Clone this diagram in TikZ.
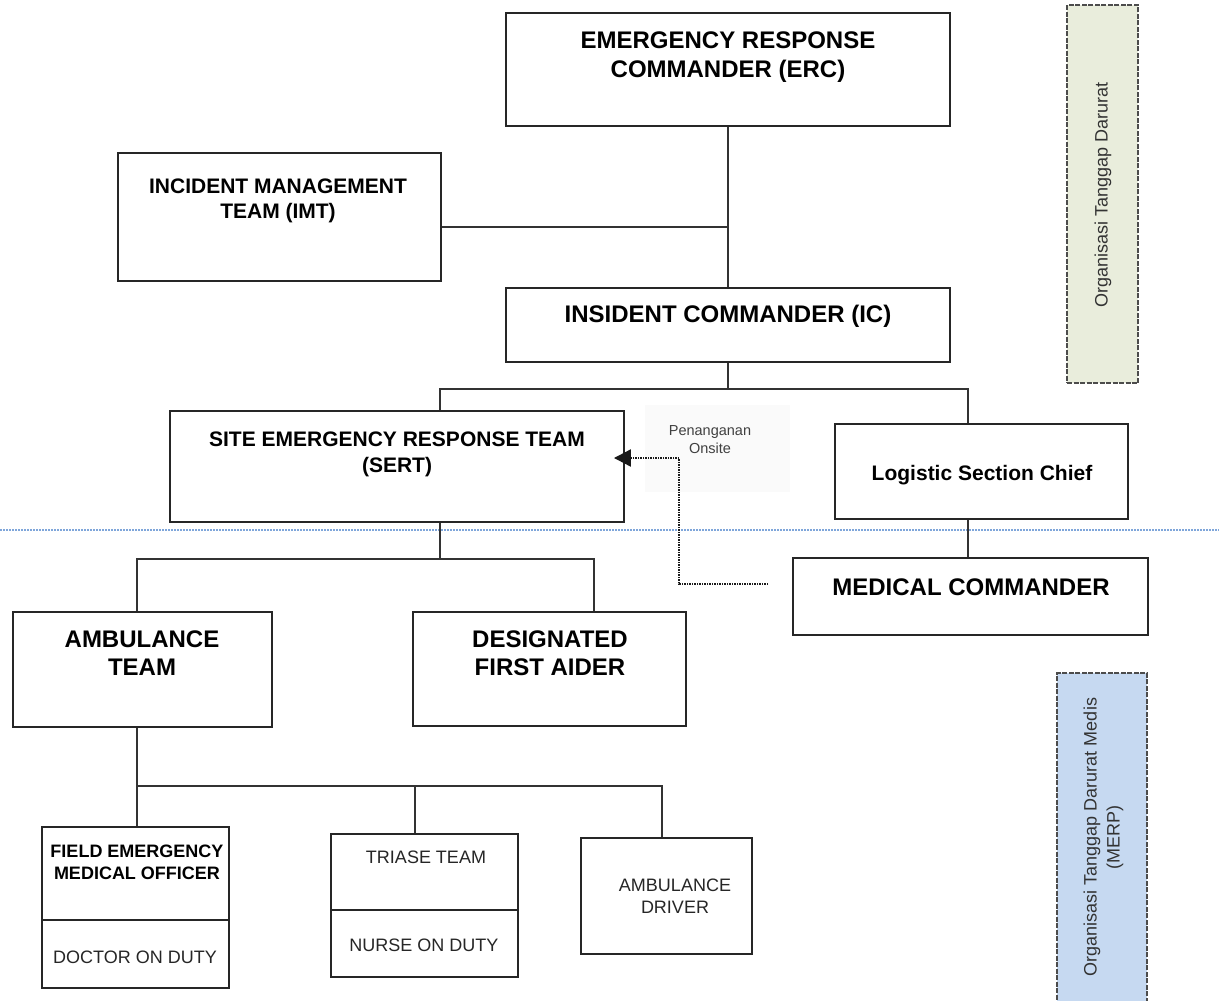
\documentclass[tikz,border=0pt]{standalone}
\usepackage{fontspec}
\setmainfont{Liberation Sans}
\usetikzlibrary{arrows.meta,calc}
\definecolor{gfill}{HTML}{E9EDDC}
\definecolor{bfill}{HTML}{C6D9F1}
\definecolor{bline}{HTML}{7FA6DA}
\begin{document}
\begin{tikzpicture}[x=1pt,y=-1pt,
  box/.style={draw=black!85, line width=1.9pt, fill=white, inner sep=0pt},
  legend/.style={draw=black!70, line width=1.8pt, dash pattern=on 5pt off 1.5pt, inner sep=0pt},
  conn/.style={draw=black!80, line width=1.6pt},
  darr/.style={draw=black!90, line width=2.2pt, dash pattern=on 1.5pt off 1pt, -{Triangle[length=17pt,width=17pt]}},
  blueline/.style={draw=bline, line width=1.3pt, dash pattern=on 2pt off 1pt},
  lbl/.style={inner sep=0pt, anchor=base, text=black},
  bigB/.style={lbl, font=\fontsize{24}{28}\selectfont\bfseries},
  midB/.style={lbl, font=\fontsize{21}{25}\selectfont\bfseries},
  smB/.style={lbl, font=\fontsize{18}{22}\selectfont\bfseries},
  smR/.style={lbl, font=\fontsize{18}{22}\selectfont, text=black!85},
  tinyR/.style={lbl, font=\fontsize{14.5}{17}\selectfont, text=black!75},
  rotR/.style={inner sep=0pt, rotate=90, align=center, text=black!80, font=\fontsize{18}{23}\selectfont},
]
\useasboundingbox (0,0) rectangle (1219,1001);
\fill[white] (0,0) rectangle (1219,1001);
\begin{scope}
\clip (0,0) rectangle (1219,1001);

% legend boxes
\node[legend, fill=gfill, minimum width=71pt, minimum height=378pt] (g1) at (1102.5,194) {};
\node[rotR] (g1t) at (1103,195) {Organisasi Tanggap Darurat};
\node[legend, fill=bfill, minimum width=90pt, minimum height=337pt] (g2) at (1102,841.5) {};
\node[rotR] (g2t) at (1103.5,837) {Organisasi Tanggap Darurat Medis\\(MERP)};

% blue separator
\coordinate (sepL) at (0,530);
\coordinate (sepR) at (1219,530);
\draw[blueline] (sepL) -- (sepR);

% label background
\node[fill=black!2, inner sep=0pt, minimum width=145pt, minimum height=87pt] (penbg) at (717.5,448.5) {};
\node[tinyR] (pen1) at (710,435) {Penanganan};
\node[tinyR] (pen2) at (710,453) {Onsite};

% boxes
\node[box, minimum width=444pt, minimum height=113pt] (erc) at (728,69.5) {};
\node[box, minimum width=323pt, minimum height=128pt] (imt) at (279.5,217) {};
\node[box, minimum width=444pt, minimum height=74pt] (ic) at (728,325) {};
\node[box, minimum width=454pt, minimum height=111pt] (sert) at (397,466.5) {};
\node[box, minimum width=293pt, minimum height=95pt] (logi) at (981.5,471.5) {};
\node[box, minimum width=355pt, minimum height=77pt] (mc) at (970.5,596.5) {};
\node[box, minimum width=259pt, minimum height=115pt] (amb) at (142.5,669.5) {};
\node[box, minimum width=273pt, minimum height=114pt] (dfa) at (549.5,669) {};
\node[box, minimum width=187pt, minimum height=93pt] (femo) at (135.5,873.5) {};
\node[box, minimum width=187pt, minimum height=68pt] (doc) at (135.5,954) {};
\node[box, minimum width=187pt, minimum height=76pt] (tri) at (424.5,872) {};
\node[box, minimum width=187pt, minimum height=67pt] (nur) at (424.5,943.5) {};
\node[box, minimum width=171pt, minimum height=116pt] (drv) at (666.5,896) {};

% texts
\node[bigB] (erc1) at (728,48) {EMERGENCY RESPONSE};
\node[bigB] (erc2) at (728,77) {COMMANDER (ERC)};
\node[midB] (imt1) at (278,193) {INCIDENT MANAGEMENT};
\node[midB] (imt2) at (278,218) {TEAM (IMT)};
\node[bigB] (ic1) at (728,322) {INSIDENT COMMANDER (IC)};
\node[midB] (sert1) at (397,446) {SITE EMERGENCY RESPONSE TEAM};
\node[midB] (sert2) at (397,472) {(SERT)};
\node[midB] (logi1) at (982,480) {Logistic Section Chief};
\node[bigB] (mc1) at (971,595) {MEDICAL COMMANDER};
\node[bigB] (amb1) at (142,647) {AMBULANCE};
\node[bigB] (amb2) at (142,675) {TEAM};
\node[bigB] (dfa1) at (550,647) {DESIGNATED};
\node[bigB] (dfa2) at (550,675) {FIRST AIDER};
\node[smB] (femo1) at (137,857) {FIELD EMERGENCY};
\node[smB] (femo2) at (137,879) {MEDICAL OFFICER};
\node[smR] (doc1) at (135,963) {DOCTOR ON DUTY};
\node[smR] (tri1) at (426,863) {TRIASE TEAM};
\node[smR] (nur1) at (424,951) {NURSE ON DUTY};
\node[smR] (drv1) at (675,891) {AMBULANCE};
\node[smR] (drv2) at (675,913) {DRIVER};

% connectors
\draw[conn] (erc.south) -- (ic.north);
\draw[conn] ([yshift=-10pt]imt.east) -- ([yshift=-10pt]imt.east -| erc.south);
\draw[conn] (ic.south) -- ++(0,26) -| ([xshift=43pt]sert.north);
\draw[conn] (ic.south) ++(0,26) -| ([xshift=-13.5pt]logi.north);
\draw[conn] ([xshift=-13.5pt]logi.south) -- ([xshift=-13.5pt]logi.south |- mc.north);
\draw[conn] ([xshift=43pt]sert.south) -- ++(0,36) -| ([xshift=-5.5pt]amb.north);
\draw[conn] ([xshift=43pt]sert.south) ++(0,36) -| ([xshift=44.5pt]dfa.north);
\draw[conn] ([xshift=-5.5pt]amb.south) -- ++(0,58) -| ([xshift=1.5pt]femo.north);
\draw[conn] ([xshift=-5.5pt]amb.south) ++(0,58) -| ([xshift=-9.5pt]tri.north);
\draw[conn] ([xshift=-5.5pt]amb.south) ++(0,58) -| ([xshift=-4.5pt]drv.north);

% dotted arrow
\draw[darr, shorten >=-11pt] ([shift={(-24pt,12.5pt)}]mc.west) -- ++(-89,0) |- ([yshift=8.5pt]sert.east);
\end{scope}
\end{tikzpicture}
\end{document}
